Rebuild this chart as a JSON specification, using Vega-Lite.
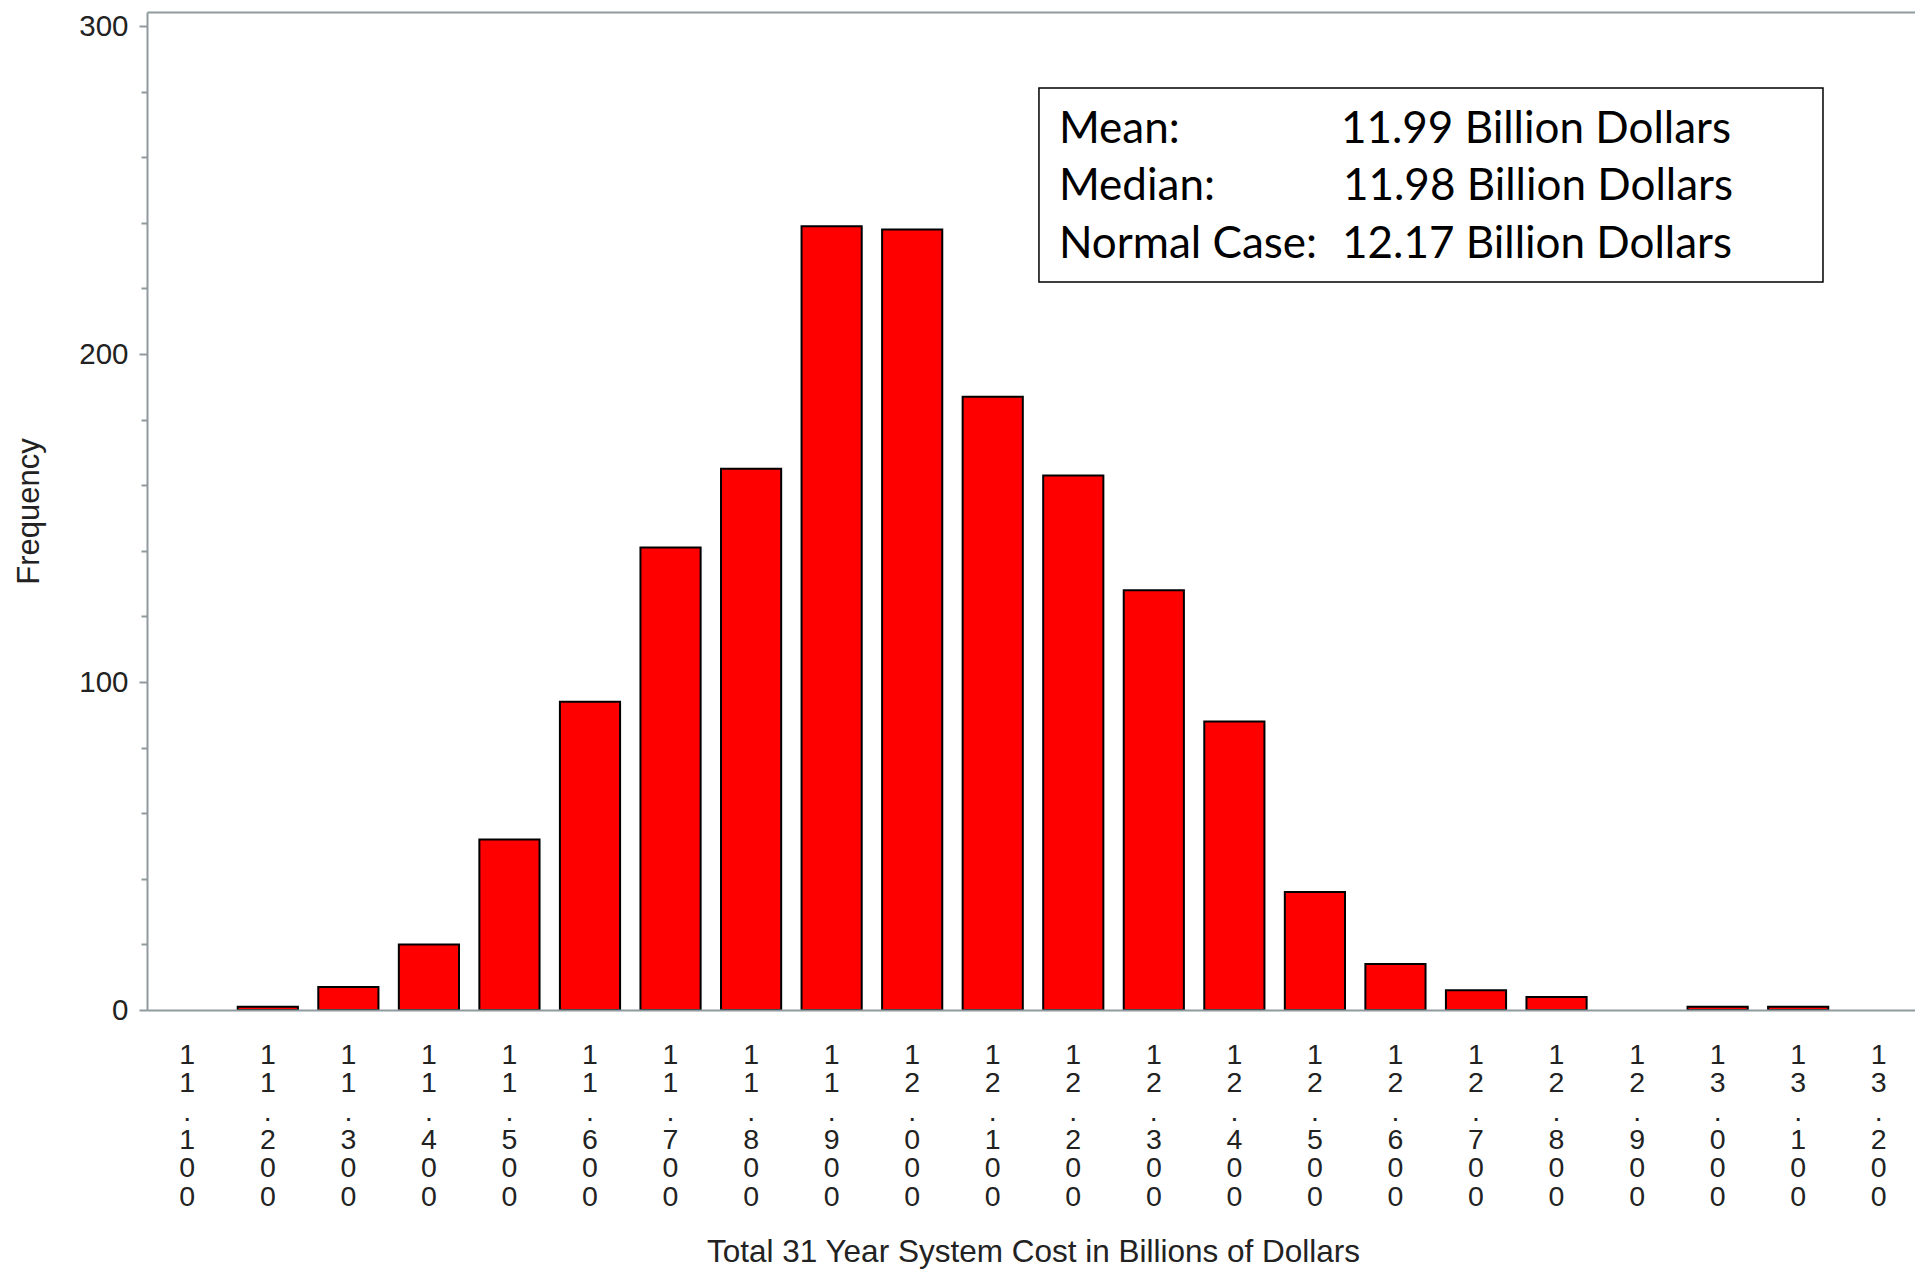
{
  "$schema": "https://vega.github.io/schema/vega-lite/v6.json",
  "width": 1768,
  "height": 998,
  "autosize": {"type": "none"},
  "padding": {"left": 147, "top": 12, "right": 0, "bottom": 259},
  "background": "white",
  "config": {"view": {"stroke": null}, "font": "Liberation Sans"},
  "layer": [
    {
      "data": {
        "values": [
          {"cost": "11.200", "frequency": 1},
          {"cost": "11.300", "frequency": 7},
          {"cost": "11.400", "frequency": 20},
          {"cost": "11.500", "frequency": 52},
          {"cost": "11.600", "frequency": 94},
          {"cost": "11.700", "frequency": 141},
          {"cost": "11.800", "frequency": 165},
          {"cost": "11.900", "frequency": 239},
          {"cost": "12.000", "frequency": 238},
          {"cost": "12.100", "frequency": 187},
          {"cost": "12.200", "frequency": 163},
          {"cost": "12.300", "frequency": 128},
          {"cost": "12.400", "frequency": 88},
          {"cost": "12.500", "frequency": 36},
          {"cost": "12.600", "frequency": 14},
          {"cost": "12.700", "frequency": 6},
          {"cost": "12.800", "frequency": 4},
          {"cost": "13.000", "frequency": 1},
          {"cost": "13.100", "frequency": 1}
        ]
      },
      "mark": {"type": "bar", "fill": "#FF0000", "stroke": "#000000", "strokeWidth": 2},
      "encoding": {
        "x": {
          "field": "cost",
          "type": "ordinal",
          "sort": null,
          "scale": {
            "domain": ["11.100", "11.200", "11.300", "11.400", "11.500", "11.600", "11.700", "11.800", "11.900", "12.000", "12.100", "12.200", "12.300", "12.400", "12.500", "12.600", "12.700", "12.800", "12.900", "13.000", "13.100", "13.200"],
            "range": [0, 1772],
            "paddingInner": 0.253,
            "paddingOuter": 0.1265
          },
          "axis": {
            "title": "Total 31 Year System Cost in Billions of Dollars",
            "labelAngle": 0,
            "labelExpr": "split(datum.label, '')",
            "labelLineHeight": 28.3,
            "labelFontSize": 28.5,
            "labelFont": "Liberation Sans",
            "labelColor": "#222222",
            "labelPadding": 30.5,
            "labelBaseline": "top",
            "labelOverlap": false,
            "ticks": false,
            "tickSize": 0,
            "domainColor": "#8f999e",
            "domainWidth": 2,
            "titleFont": "Liberation Sans",
            "titleFontSize": 31.5,
            "titleFontWeight": "normal",
            "titleColor": "#222222",
            "titlePadding": 26,
            "zindex": 1
          }
        },
        "y": {
          "field": "frequency",
          "type": "quantitative",
          "scale": {"domain": [0, 304.3], "nice": false, "zero": true},
          "axis": {
            "title": "Frequency",
            "values": [0, 10, 20, 30, 40, 50, 60, 70, 80, 90, 100, 110, 120, 130, 140, 150, 160, 170, 180, 190, 200, 210, 220, 230, 240, 250, 260, 270, 280, 290, 300],
            "labelExpr": "datum.value % 100 === 0 ? datum.label : ''",
            "tickSize": {"condition": {"test": "datum.value % 100 === 0", "value": 8}, "value": 6},
            "tickColor": "#8f999e",
            "tickWidth": 2,
            "domainColor": "#8f999e",
            "domainWidth": 2,
            "labelFont": "Liberation Sans",
            "labelFontSize": 29.5,
            "labelColor": "#222222",
            "labelPadding": 11,
            "labelOverlap": false,
            "labelFlush": false,
            "titleFont": "Liberation Sans",
            "titleFontSize": 31,
            "titleFontWeight": "normal",
            "titleColor": "#222222",
            "titlePadding": 33,
            "grid": false
          }
        }
      }
    },
    {
      "data": {
        "values": [
          {"stat": "Mean:", "value": "11.99 Billion Dollars"},
          {"stat": "Median:", "value": "11.98 Billion Dollars"},
          {"stat": "Normal Case:", "value": "12.17 Billion Dollars"}
        ]
      },
      "layer": [
        {
          "transform": [{"filter": "datum.stat === 'Mean:'"}],
          "mark": {"type": "rect", "fill": "white", "stroke": "black", "strokeWidth": 1.5},
          "encoding": {
            "x": {
              "datum": 12.1574,
              "type": "quantitative",
              "scale": {"domain": [11.05, 13.25], "range": [0, 1772], "nice": false, "zero": false},
              "axis": {"orient": "top", "title": null, "labels": false, "ticks": false, "grid": false, "domain": true, "domainColor": "#8f999e", "domainWidth": 2}
            },
            "x2": {"datum": 13.1308},
            "y": {"datum": 281.1, "type": "quantitative"},
            "y2": {"datum": 222.0}
          }
        },
        {
          "transform": [{"filter": "datum.stat === 'Mean:'"}],
          "encoding": {"y": {"datum": 264.3, "type": "quantitative"}},
          "layer": [
            {
              "mark": {"type": "text", "align": "left", "baseline": "alphabetic", "font": "Lato", "fontSize": 44, "fill": "black"},
              "encoding": {"x": {"datum": 12.1822, "type": "quantitative"}, "text": {"field": "stat"}}
            },
            {
              "mark": {"type": "text", "align": "left", "baseline": "alphabetic", "font": "Lato", "fontSize": 44, "fill": "black"},
              "encoding": {"x": {"datum": 12.5323, "type": "quantitative"}, "text": {"field": "value"}}
            }
          ]
        },
        {
          "transform": [{"filter": "datum.stat === 'Median:'"}],
          "encoding": {"y": {"datum": 246.95, "type": "quantitative"}},
          "layer": [
            {
              "mark": {"type": "text", "align": "left", "baseline": "alphabetic", "font": "Lato", "fontSize": 44, "fill": "black"},
              "encoding": {"x": {"datum": 12.1822, "type": "quantitative"}, "text": {"field": "stat"}}
            },
            {
              "mark": {"type": "text", "align": "left", "baseline": "alphabetic", "font": "Lato", "fontSize": 44, "fill": "black"},
              "encoding": {"x": {"datum": 12.5348, "type": "quantitative"}, "text": {"field": "value"}}
            }
          ]
        },
        {
          "transform": [{"filter": "datum.stat === 'Normal Case:'"}],
          "encoding": {"y": {"datum": 229.27, "type": "quantitative"}},
          "layer": [
            {
              "mark": {"type": "text", "align": "left", "baseline": "alphabetic", "font": "Lato", "fontSize": 44, "fill": "black"},
              "encoding": {"x": {"datum": 12.1822, "type": "quantitative"}, "text": {"field": "stat"}}
            },
            {
              "mark": {"type": "text", "align": "left", "baseline": "alphabetic", "font": "Lato", "fontSize": 44, "fill": "black"},
              "encoding": {"x": {"datum": 12.5336, "type": "quantitative"}, "text": {"field": "value"}}
            }
          ]
        }
      ]
    }
  ],
  "resolve": {"scale": {"x": "independent"}}
}
